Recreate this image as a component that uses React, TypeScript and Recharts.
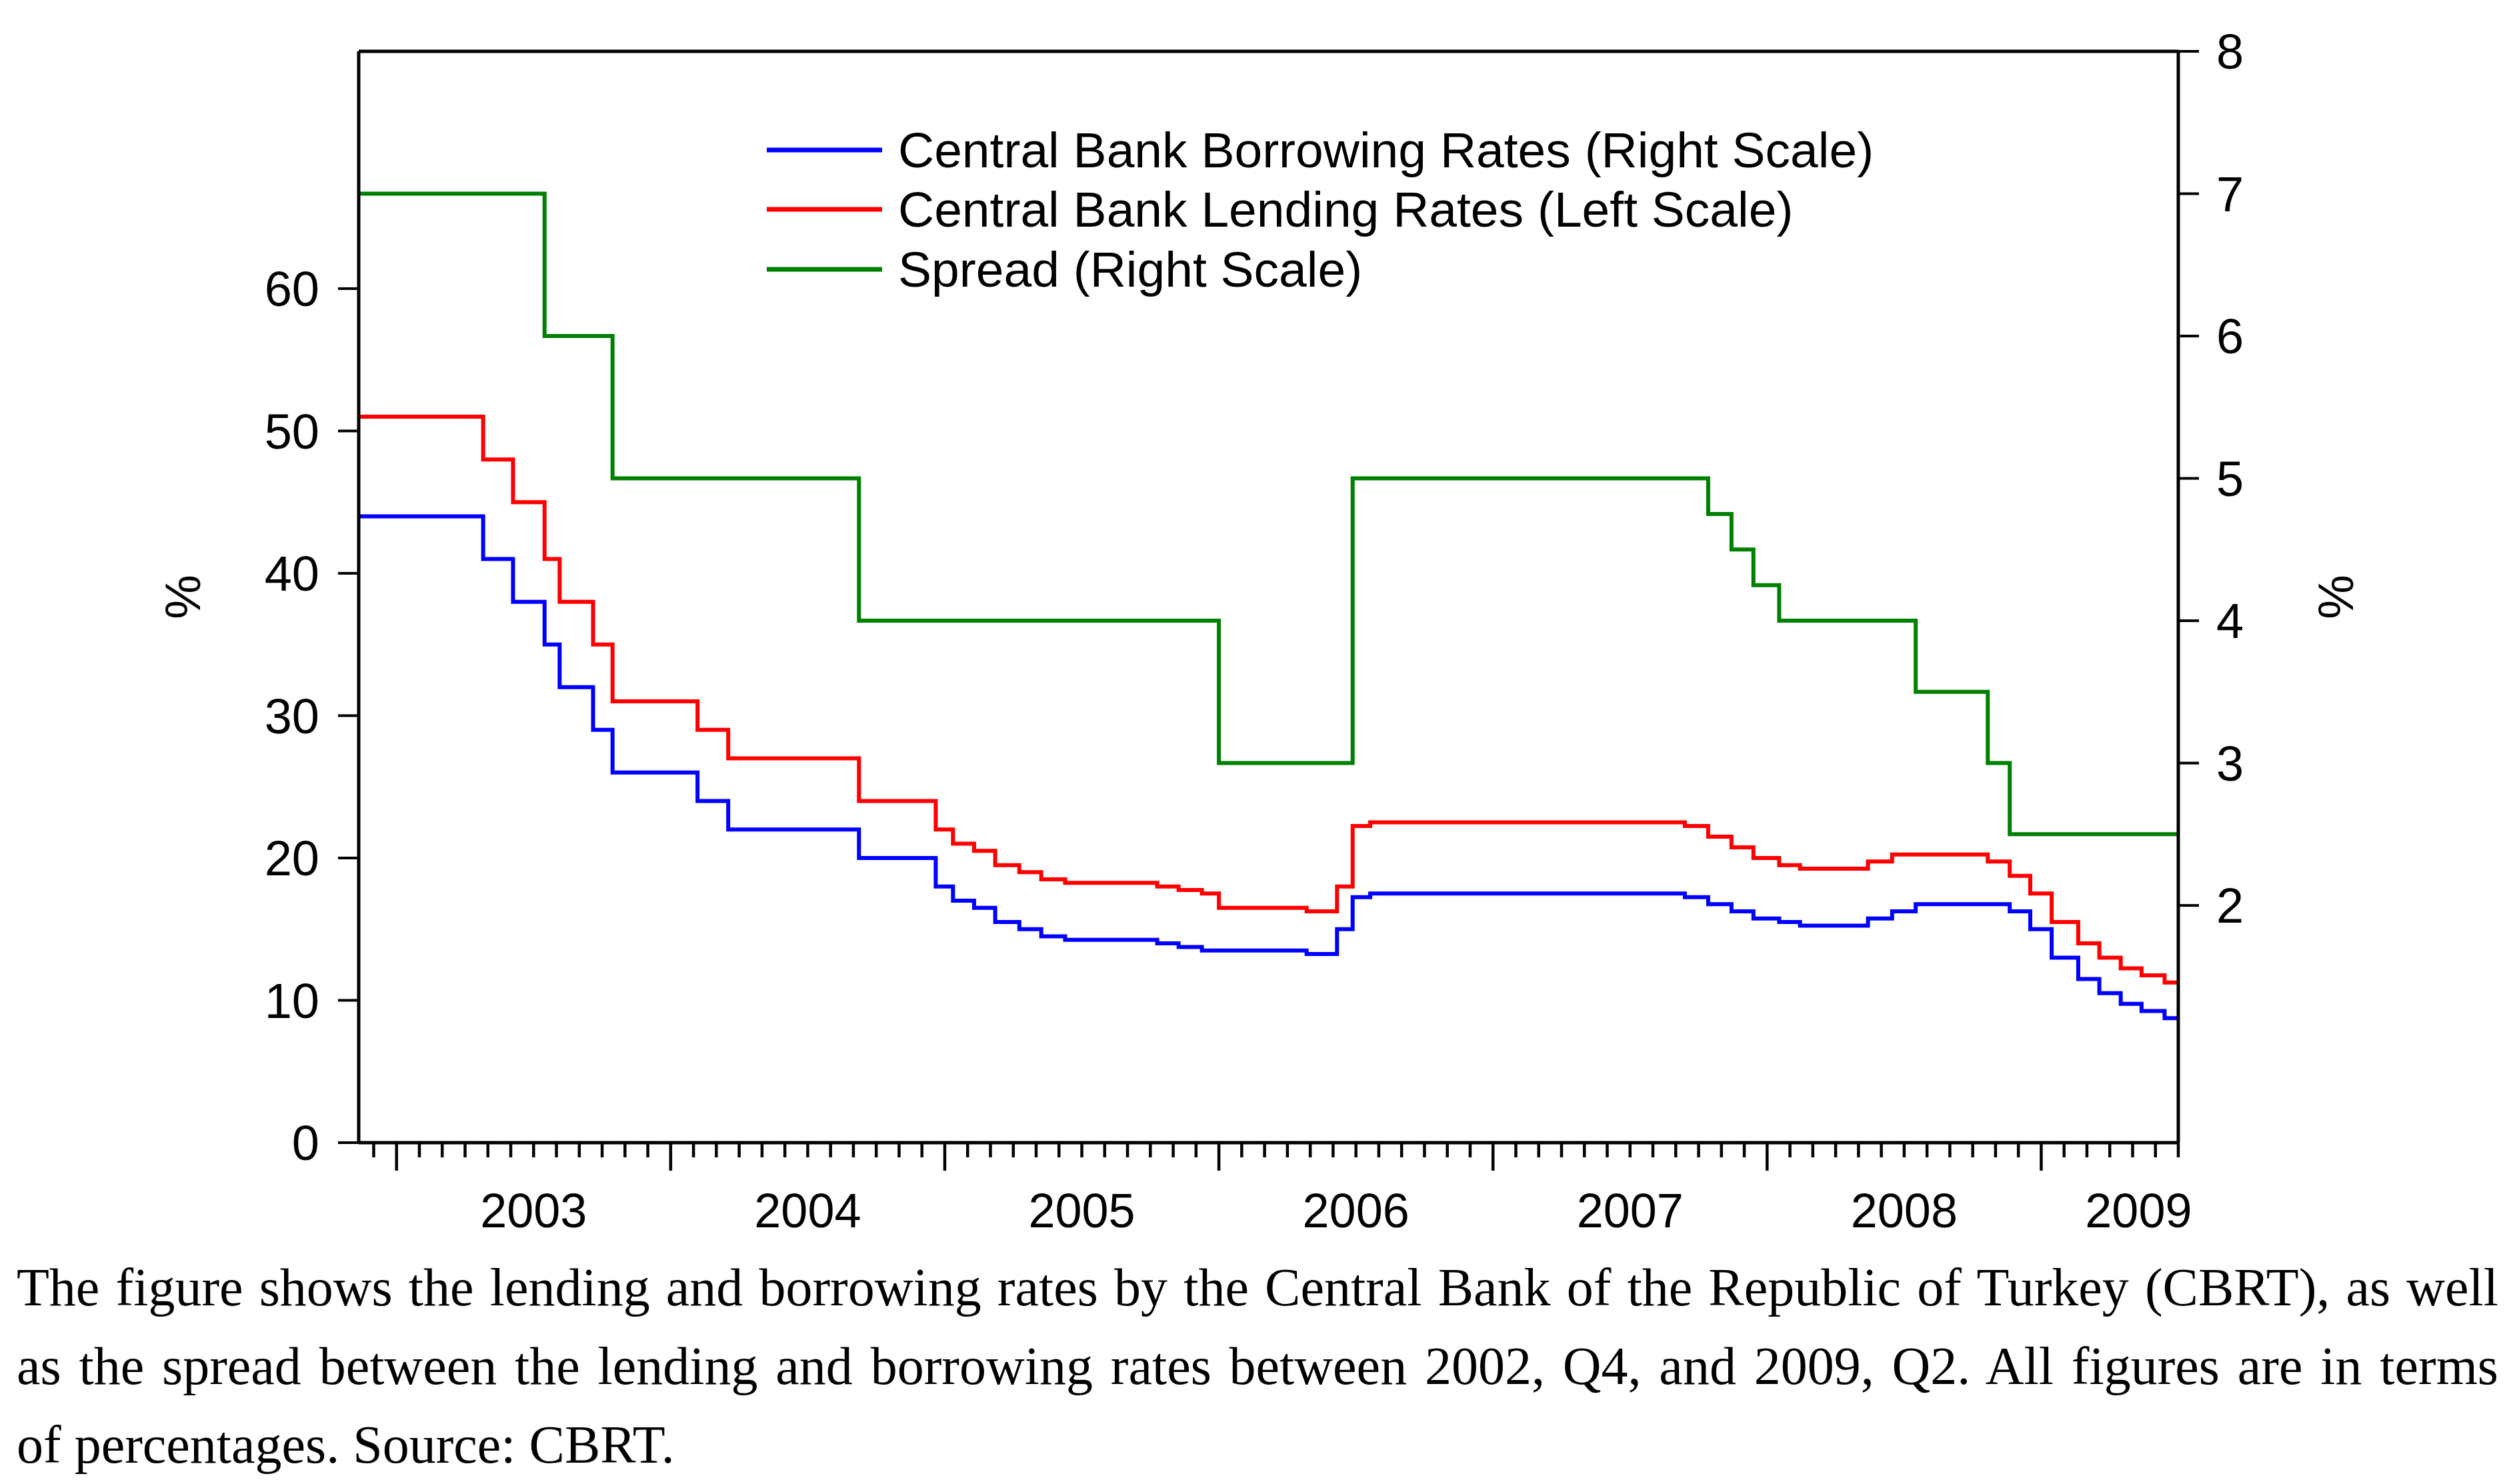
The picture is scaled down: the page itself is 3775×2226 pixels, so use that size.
import React from 'react'
import { LineChart, Line, XAxis, YAxis, Legend, ReferenceLine } from 'recharts'

// step change dates (decimal years) and CBRT overnight rates
const RATE_DATES = [
  2002.862, 2003.316, 2003.425, 2003.54, 2003.595, 2003.717, 2003.788, 2004.098, 2004.21, 2004.687,
  2004.967, 2005.03, 2005.107, 2005.184, 2005.272, 2005.352, 2005.439, 2005.775, 2005.853, 2005.938,
  2006.0, 2006.32, 2006.431, 2006.488, 2006.552, 2007.7, 2007.785, 2007.87, 2007.95, 2008.044,
  2008.12, 2008.368, 2008.456, 2008.542, 2008.805, 2008.885, 2008.96, 2009.038, 2009.135, 2009.212,
  2009.29, 2009.366, 2009.45,
]
const BORROWING = [
  44, 41, 38, 35, 32, 29, 26, 24, 22, 20,
  18, 17, 16.5, 15.5, 15, 14.5, 14.25, 14, 13.75, 13.5,
  13.5, 13.25, 15, 17.25, 17.5, 17.25, 16.75, 16.25, 15.75, 15.5,
  15.25, 15.75, 16.25, 16.75, 16.75, 16.25, 15, 13, 11.5, 10.5,
  9.75, 9.25, 8.75,
]
const LENDING = [
  51, 48, 45, 41, 38, 35, 31, 29, 27, 24,
  22, 21, 20.5, 19.5, 19, 18.5, 18.25, 18, 17.75, 17.5,
  16.5, 16.25, 18, 22.25, 22.5, 22.25, 21.5, 20.75, 20, 19.5,
  19.25, 19.75, 20.25, 20.25, 19.75, 18.75, 17.5, 15.5, 14, 13,
  12.25, 11.75, 11.25,
]
const SPREAD_DATES = [
  2002.862, 2003.54, 2003.788, 2004.687, 2006.0, 2006.488, 2007.785, 2007.87, 2007.95, 2008.044,
  2008.542, 2008.805, 2008.885,
]
const SPREAD = [7, 6, 5, 4, 3, 5, 4.75, 4.5, 4.25, 4, 3.5, 3, 2.5]

const X_START = 2002.862
const X_END = 2009.5
const LEFT_MAX = 76.67
const YEARS = [2003, 2004, 2005, 2006, 2007, 2008, 2009]
const YEAR_LABEL_POS = [2003.5, 2004.5, 2005.5, 2006.5, 2007.5, 2008.5, 2009.355]
const LEFT_TICKS = [0, 10, 20, 30, 40, 50, 60]
const RIGHT_TICKS = [2, 3, 4, 5, 6, 7, 8]

const NAMES = {
  borrow: 'Central Bank Borrowing Rates (Right Scale)',
  lend: 'Central Bank Lending Rates (Left Scale)',
  spread: 'Spread (Right Scale)',
}

// monthly tick marks, Dec 2002 .. Jul 2009
const MONTH_TICKS: number[] = [2002 + 11 / 12]
for (const y of YEARS) {
  for (let m = 0; m < 12; m++) {
    const v = y + m / 12
    if (v <= X_END + 1e-6) MONTH_TICKS.push(v)
  }
}

const toSteps = (dates: number[], vals: number[]) => [
  ...dates.map((t, i) => ({ t, v: vals[i] })),
  { t: X_END, v: vals[vals.length - 1] },
]

const borrowData = toSteps(RATE_DATES, BORROWING)
const lendData = toSteps(RATE_DATES, LENDING)
const spreadData = toSteps(SPREAD_DATES, SPREAD)

const SANS = '"Liberation Sans", Arial, Helvetica, sans-serif'
const SERIF = '"Liberation Serif", "Times New Roman", serif'

const MonthTick = ({ x, y, payload }: any) => {
  const isYear = Math.round(payload.value * 12) % 12 === 0
  return <line x1={x} x2={x} y1={y} y2={y + (isYear ? 42 : 22)} stroke="#000" strokeWidth={4.5} />
}

const YearTick = ({ x, y, index }: any) => (
  <text x={x} y={y + 87} textAnchor="middle" fontSize={72} fontFamily={SANS} fill="#000">
    {YEARS[index]}
  </text>
)

const LegendBox = ({ payload }: any) => (
  <div style={{ fontFamily: SANS, fontSize: 75, color: '#000' }}>
    {(payload || []).map((p: any) => (
      <div key={p.value} style={{ display: 'flex', alignItems: 'center', height: 89.5 }}>
        <svg width={173} height={10} style={{ display: 'block', marginRight: 24 }}>
          <line x1={0} x2={173} y1={5} y2={5} stroke={p.color} strokeWidth={7} />
        </svg>
        <span style={{ whiteSpace: 'nowrap' }}>{p.value}</span>
      </div>
    ))}
  </div>
)

const axisLine = { stroke: '#000', strokeWidth: 5 }
const yTickLine = { stroke: '#000', strokeWidth: 4 }
const tickFont = { fontSize: 74, fill: '#000', fontFamily: SANS }

export default function App() {
  return (
    <div>
      <div style={{ fontFamily: SANS }}>
        <LineChart width={3759} height={1864} margin={{ top: 69, right: 30, bottom: 0, left: 0 }}>
          <XAxis
            xAxisId="m" type="number" dataKey="t" domain={[X_START, X_END]} allowDataOverflow
            ticks={MONTH_TICKS} interval={0} height={40} tickSize={0} tickMargin={0}
            tickLine={false} tick={<MonthTick />} axisLine={axisLine}
          />
          <XAxis
            xAxisId="yr" type="number" dataKey="t" domain={[X_START, X_END]} allowDataOverflow
            ticks={YEAR_LABEL_POS} interval={0} height={118} tickSize={0} tickMargin={0}
            tickLine={false} axisLine={false} tick={<YearTick />}
          />
          <YAxis
            yAxisId="left" domain={[0, LEFT_MAX]} allowDataOverflow ticks={LEFT_TICKS} interval={0}
            width={530} tickSize={31} tickMargin={28} tick={tickFont} tickLine={yTickLine}
            axisLine={axisLine}
            label={{ value: '%', angle: -90, position: 'center', fontSize: 75, fill: '#000', fontFamily: SANS }}
          />
          <YAxis
            yAxisId="right" orientation="right" domain={[1 / 3, 8]} allowDataOverflow ticks={RIGHT_TICKS}
            interval={0} width={470} tickSize={31} tickMargin={26} tick={tickFont} tickLine={yTickLine}
            axisLine={axisLine}
            label={{ value: '%', angle: -90, position: 'center', fontSize: 75, fill: '#000', fontFamily: SANS }}
          />
          {/* top edge of the frame */}
          <ReferenceLine xAxisId="m" yAxisId="left" y={LEFT_MAX} stroke="#000" strokeWidth={5} />
          <Legend
            layout="horizontal" verticalAlign="middle" align="center"
            wrapperStyle={{ top: 172, left: 1142, width: 'auto' }}
            content={<LegendBox />}
          />
          <Line
            data={borrowData} dataKey="v" name={NAMES.borrow} xAxisId="m" yAxisId="left" type="stepAfter"
            stroke="#0000ff" strokeWidth={6} dot={false} activeDot={false} isAnimationActive={false}
          />
          <Line
            data={lendData} dataKey="v" name={NAMES.lend} xAxisId="m" yAxisId="left" type="stepAfter"
            stroke="#ff0000" strokeWidth={6} dot={false} activeDot={false} isAnimationActive={false}
          />
          <Line
            data={spreadData} dataKey="v" name={NAMES.spread} xAxisId="m" yAxisId="right" type="stepAfter"
            stroke="#008000" strokeWidth={6} dot={false} activeDot={false} isAnimationActive={false}
          />
        </LineChart>
      </div>

      {/* caption */}
      <div style={{ fontFamily: SERIF, fontSize: 80, lineHeight: '118px', marginLeft: 17, width: 3722, color: '#000' }}>
        <div style={{ textAlign: 'justify', textAlignLast: 'justify' }}>
          The figure shows the lending and borrowing rates by the Central Bank of the Republic of Turkey (CBRT), as well
        </div>
        <div style={{ textAlign: 'justify', textAlignLast: 'justify' }}>
          as the spread between the lending and borrowing rates between 2002, Q4, and 2009, Q2. All figures are in terms
        </div>
        <div>of percentages. Source: CBRT.</div>
      </div>
    </div>
  )
}
